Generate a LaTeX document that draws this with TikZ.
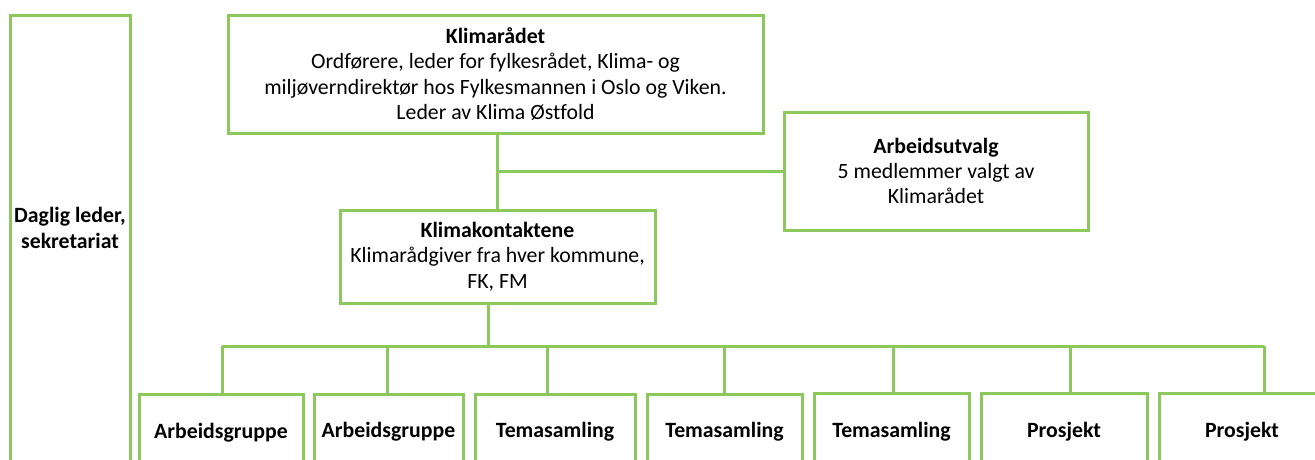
\documentclass[tikz,border=0pt]{standalone}
\usepackage{fontspec}
\setmainfont{Carlito}[Ligatures=NoCommon]
\usepackage{tikz}
\definecolor{orggreen}{RGB}{140,201,92}

\begin{document}
\begin{tikzpicture}[x=1pt, y=-1pt,
		node_style/.style={rectangle,draw=orggreen,line width=3pt,fill=white,inner sep=0pt,align=center,
			font=\fontsize{21.8}{25.3}\selectfont},
		group_style/.style={node_style,minimum height=76pt,font=\fontsize{21.8}{25.3}\selectfont\bfseries},
		edge_style/.style={draw=orggreen,line width=3pt}]

		\useasboundingbox (0,0) rectangle (1315,459);
		\clip (0,0) rectangle (1315,459);

		\node[node_style, minimum width=120pt, minimum height=475pt,
			label={[align=center,yshift=24.5pt,font=\fontsize{21.8}{25.3}\selectfont\bfseries]center:Daglig leder,\\sekretariat}]
			(daglig) at (70,252.5) {};
		\node[node_style, minimum width=535pt, minimum height=118pt] (raadet) at (495.5,74)
			{\textbf{Klimarådet}\\Ordførere, leder for fylkesrådet, Klima- og\\miljøverndirektør hos Fylkesmannen i Oslo og Viken.\\Leder av Klima Østfold};
		\node[node_style, minimum width=304pt, minimum height=118pt] (utvalg) at (936,171)
			{\textbf{Arbeidsutvalg}\\5 medlemmer valgt av\\Klimarådet};
		\node[node_style, minimum width=315pt, minimum height=93pt] (kontakt) at (497.5,256.5)
			{\textbf{Klimakontaktene}\\Klimarådgiver fra hver kommune,\\FK, FM};

		\node[group_style, minimum width=164pt] (g1) at (221,432.5)  {Arbeidsgruppe};
		\node[group_style, minimum width=149pt] (g2) at (388.5,432)  {Arbeidsgruppe};
		\node[group_style, minimum width=160pt] (g3) at (555,432)  {Temasamling};
		\node[group_style, minimum width=155pt] (g4) at (724.5,432)  {Temasamling};
		\node[group_style, minimum width=155pt] (g5) at (891.5,431.5)  {Temasamling};
		\node[group_style, minimum width=166pt] (g6) at (1064,431.5)  {Prosjekt};
		\node[group_style, minimum width=166pt] (g7) at (1242,431.5)  {Prosjekt};

		\coordinate (bus) at (488,346);
		\foreach \i/\x in {1/222,2/387,3/547,4/724,5/893,6/1070,7/1264}
			\coordinate (b\i) at (\x,346);

		\draw[edge_style]  (kontakt.north) edge node{} (kontakt.north |- raadet.south);
		\draw[edge_style]  (utvalg.west) edge node{} (utvalg.west -| kontakt.north);
		\draw[edge_style]  (kontakt.south -| bus) edge node{} (bus);
		\draw[edge_style]  (b1) -- (b7);
		\foreach \i in {1,...,7}
			\draw[edge_style]  (b\i) -- (b\i |- g\i.north);
\end{tikzpicture}
\end{document}
